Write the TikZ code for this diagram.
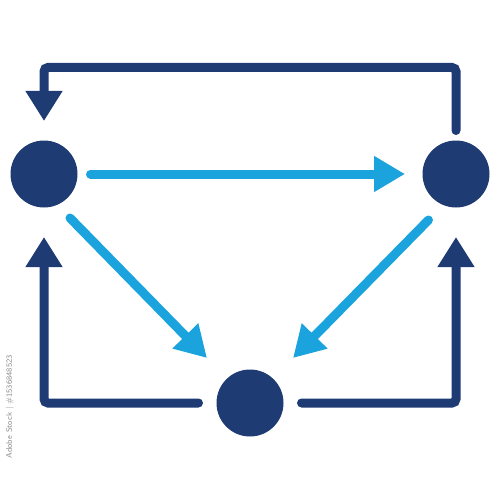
\documentclass[tikz,border=0pt]{standalone}
\usetikzlibrary{arrows.meta}
\definecolor{darkb}{HTML}{1F3B74}
\definecolor{lightb}{HTML}{1BA3DE}
\definecolor{wm}{HTML}{8A8A8A}
\begin{document}
\begin{tikzpicture}[x=1pt,y=-1pt,
  dot/.style={circle,fill=darkb,draw=none,minimum size=67pt,inner sep=0pt},
  darkarrow/.style={draw=darkb,line width=9pt,line cap=round,rounded corners=4pt,
    -{Triangle[length=30pt,width=35pt]}},
  lightarrow/.style={draw=lightb,line width=9pt,line cap=round,
    -{Triangle[length=31pt,width=34pt]}},
  wmtext/.style={font=\sffamily\fontsize{8}{8}\selectfont,text=wm,rotate=90,inner sep=0pt}]
\useasboundingbox (0,0) rectangle (500,500);
\node[dot] (L) at (44,174) {};
\node[dot] (R) at (456,174) {};
\node[dot] (B) at (250,403) {};
\coordinate (top) at (0,67.5);
% top loop R -> L
\draw[darkarrow,shorten <=43.5pt,shorten >=53pt] (R.center) -- (R |- top) -- (L |- top) -- (L.center);
% bottom-left B -> L
\draw[darkarrow,shorten <=51.5pt,shorten >=63pt] (B.center) -- (B -| L) -- (L.center);
% bottom-right B -> R
\draw[darkarrow,shorten <=51.5pt,shorten >=63pt] (B.center) -- (B -| R) -- (R.center);
% light arrows
\draw[lightarrow,shorten <=46.5pt,shorten >=51pt] (L.center) -- (R.center);
\draw[lightarrow] ([shift={(26,44)}]L.center) -- ([shift={(-43,-45)}]B.center);
\draw[lightarrow] ([shift={(-27.5,46)}]R.center) -- ([shift={(43,-45)}]B.center);
% watermark id
\node[wmtext,anchor=east] (wm) at (10,355) {Adobe Stock | \#1536848523};
\end{tikzpicture}
\end{document}
